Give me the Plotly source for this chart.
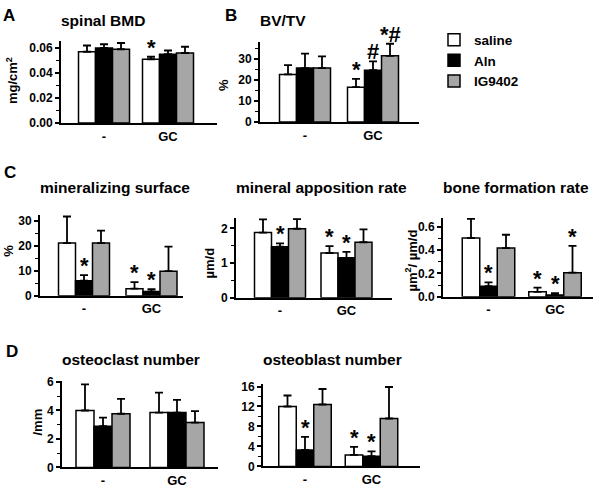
import plotly.graph_objects as go

W, H = 600, 491

GROUPS = ['-', 'GC']
SERIES = ['saline', 'Aln', 'IG9402']
COLORS = ['#ffffff', '#000000', '#a6a6a6']

# Each panel: means and upper error per series [saline, Aln, IG9402] x groups [-, GC]
bmd_mean = [[0.057, 0.051], [0.060, 0.055], [0.059, 0.056]]
bmd_err = [[0.005, 0.002], [0.003, 0.003], [0.005, 0.005]]
bmd_sig = [(0, 1, '*')]

bvtv_mean = [[22.5, 16.5], [25.5, 24.5], [25.5, 31.3]]
bvtv_err = [[4.4, 3.9], [6.8, 4.2], [5.5, 5.7]]
bvtv_sig = [(0, 1, '*'), (1, 1, '#'), (2, 1, '*#')]

ms_mean = [[21.0, 2.8], [6.0, 1.7], [21.0, 9.8]]
ms_err = [[10.6, 2.6], [2.2, 0.9], [5.0, 9.8]]
ms_sig = [(1, 0, '*'), (0, 1, '*'), (1, 1, '*')]

mar_mean = [[1.88, 1.29], [1.47, 1.15], [1.99, 1.60]]
mar_err = [[0.38, 0.20], [0.10, 0.17], [0.28, 0.37]]
mar_sig = [(1, 0, '*'), (0, 1, '*'), (1, 1, '*')]

bfr_mean = [[0.505, 0.042], [0.090, 0.015], [0.418, 0.207]]
bfr_err = [[0.165, 0.036], [0.033, 0.015], [0.115, 0.230]]
bfr_sig = [(1, 0, '*'), (0, 1, '*'), (1, 1, '*'), (2, 1, '*')]

ocl_mean = [[4.0, 3.85], [2.9, 3.85], [3.77, 3.15]]
ocl_err = [[1.84, 1.40], [0.60, 0.90], [1.05, 0.80]]
ocl_sig = []

obl_mean = [[12.0, 2.3], [3.3, 2.05], [12.4, 9.6]]
obl_err = [[2.2, 1.6], [2.6, 0.95], [3.1, 6.3]]
obl_sig = [(1, 0, '*'), (0, 1, '*'), (1, 1, '*')]

panels = [
    dict(mean=bmd_mean, err=bmd_err, sig=bmd_sig, title='spinal BMD', ylab='mg/cm<sup>2</sup>',
         letter='A', dtick=0.02, minor=0.01, fmt='.2f'),
    dict(mean=bvtv_mean, err=bvtv_err, sig=bvtv_sig, title='BV/TV', ylab='%',
         letter='B', dtick=10, minor=5, fmt='d'),
    dict(mean=ms_mean, err=ms_err, sig=ms_sig, title='mineralizing surface', ylab='%',
         letter='C', dtick=10, minor=5, fmt='d'),
    dict(mean=mar_mean, err=mar_err, sig=mar_sig, title='mineral apposition rate', ylab='µm/d',
         letter=None, dtick=1, minor=0.5, fmt='d'),
    dict(mean=bfr_mean, err=bfr_err, sig=bfr_sig, title='bone formation rate', ylab='µm<sup>2</sup>/ µm/d',
         letter=None, dtick=0.2, minor=0.1, fmt='.1f'),
    dict(mean=ocl_mean, err=ocl_err, sig=ocl_sig, title='osteoclast number', ylab='/mm',
         letter='D', dtick=2, minor=1, fmt='d'),
    dict(mean=obl_mean, err=obl_err, sig=obl_sig, title='osteoblast number', ylab=None,
         letter=None, dtick=4, minor=2, fmt='d'),
]

# layout geometry in pixels: axis left/right, group centres, bar width, y0 px, top px, top value
geom = [
    dict(x0=61, x1=217, c0=104, c1=168, w=17, yb=121, yt=37, ytop=0.0655, ty=16, lx=12, ly=78, let=(9, 11)),
    dict(x0=260, x1=419, c0=305, c1=373, w=17, yb=120, yt=38, ytop=37.8, ty=16, lx=224, ly=82, let=(231, 11)),
    dict(x0=40, x1=183, c0=84, c1=151.5, w=17, yb=298, yt=215, ytop=32.3, ty=187, lx=9, ly=252, let=(10, 172)),
    dict(x0=236, x1=392, c0=280, c1=346.5, w=17, yb=300, yt=218, ytop=2.31, ty=187, lx=210, ly=265, let=None),
    dict(x0=443, x1=593, c0=488.5, c1=555, w=17.5, yb=299, yt=218, ytop=0.68, ty=187, lx=411, ly=262, let=None),
    dict(x0=62, x1=218, c0=103, c1=177, w=18, yb=474, yt=385, ytop=6.1, ty=363, lx=38, ly=428, let=(12, 355)),
    dict(x0=263, x1=420, c0=305, c1=371.5, w=17.5, yb=473, yt=388, ytop=16.6, ty=363, lx=None, ly=None, let=None),
]

FONT = 'Liberation Sans, Arial, sans-serif'

fig = go.Figure()
annotations = []
layout = {}

for i, (p, g) in enumerate(zip(panels, geom)):
    k = '' if i == 0 else str(i + 1)
    u = g['c1'] - g['c0']
    wu = g['w'] / u
    offs = [-1.5 * wu, -0.5 * wu, 0.5 * wu]
    for s in range(3):
        fig.add_trace(go.Bar(
            x=[0, 1], y=p['mean'][s], width=wu, offset=offs[s],
            marker=dict(color=COLORS[s], line=dict(color='black', width=1.5)),
            error_y=dict(type='data', array=p['err'][s], arrayminus=[0, 0], symmetric=False,
                         thickness=1.8, width=4, color='black'),
            name=SERIES[s], legendgroup=SERIES[s], showlegend=(i == 0),
            xaxis='x' + k, yaxis='y' + k, hoverinfo='skip'))
    for (s, gi, txt) in p['sig']:
        annotations.append(dict(
            x=gi + offs[s] + wu / 2, y=p['mean'][s][gi] + p['err'][s][gi],
            xref='x' + k, yref='y' + k, text=txt, showarrow=False,
            yanchor='bottom', yshift=-5, font=dict(family=FONT, size=22, color='black', weight='bold')))
    layout['xaxis' + k] = dict(
        domain=[g['x0'] / W, g['x1'] / W], range=[(g['x0'] - g['c0']) / u, (g['x1'] - g['c0']) / u],
        anchor='y' + k, showline=True, linecolor='black', linewidth=2, showgrid=False, zeroline=False,
        tickvals=[0, 1], ticktext=GROUPS, ticks='', fixedrange=True,
        tickfont=dict(family=FONT, size=13, color='black', weight='bold'))
    layout['yaxis' + k] = dict(
        domain=[1 - g['yb'] / H, 1 - g['yt'] / H], range=[0, g['ytop']], anchor='x' + k,
        showline=True, linecolor='black', linewidth=2, showgrid=False, zeroline=False,
        ticks='outside', ticklen=4, tickwidth=1.5, tickcolor='black', dtick=p['dtick'], tick0=0,
        tickformat=p['fmt'], fixedrange=True,
        minor=dict(dtick=p['minor'], ticks='outside', ticklen=3, tickwidth=1, tickcolor='black', showgrid=False),
        tickfont=dict(family=FONT, size=12, color='black', weight='bold'))
    annotations.append(dict(x=(g['x0'] - 2) / W, y=1 - g['ty'] / H, xref='paper', yref='paper',
                            text=p['title'], showarrow=False, xanchor='left', yanchor='middle',
                            font=dict(family=FONT, size=15.5, color='black', weight='bold')))
    if p['ylab']:
        annotations.append(dict(x=g['lx'] / W, y=1 - g['ly'] / H, xref='paper', yref='paper',
                                text=p['ylab'], showarrow=False, textangle=-90,
                                xanchor='center', yanchor='middle',
                                font=dict(family=FONT, size=13, color='black', weight='bold')))
    if p['letter']:
        lx, ly = g['let']
        annotations.append(dict(x=lx / W, y=1 - ly / H, xref='paper', yref='paper',
                                text=p['letter'], showarrow=False, xanchor='center', yanchor='middle',
                                font=dict(family=FONT, size=17, color='black', weight='bold')))

fig.update_layout(
    width=W, height=H, margin=dict(l=0, r=0, t=0, b=0),
    paper_bgcolor='white', plot_bgcolor='white', barmode='overlay',
    annotations=annotations,
    legend=dict(x=434 / W, y=1 - 20 / H, xanchor='left', yanchor='top',
                font=dict(family=FONT, size=13.5, color='black', weight='bold'),
                bgcolor='rgba(0,0,0,0)', tracegroupgap=0),
    **layout)

fig.write_html('out.html', config={'displayModeBar': False},
               post_script="document.body.style.margin='0';document.body.style.padding='0';")
